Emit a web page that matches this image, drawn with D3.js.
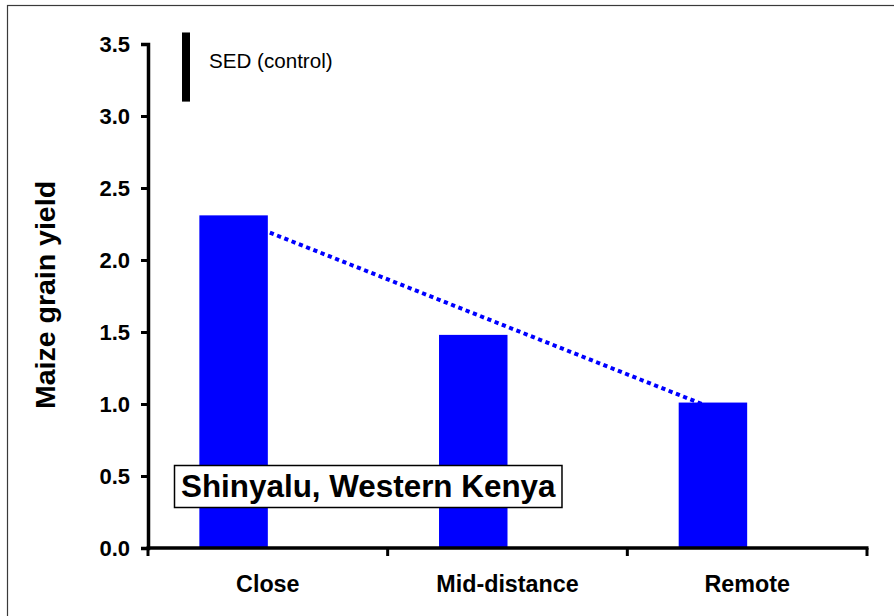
<!DOCTYPE html>
<html>
<head>
<meta charset="utf-8">
<script src="https://cdn.jsdelivr.net/npm/d3@7"></script>
<style>
  html, body { margin: 0; padding: 0; background: #fff; }
  svg { display: block; font-family: Arial, "Liberation Sans", Helvetica, sans-serif; }
</style>
</head>
<body>
<svg id="chart" width="894" height="616"></svg>
<script>
// Maize grain yield by distance of field from homestead
const categories = ["Close", "Mid-distance", "Remote"];
const yieldValues = [2.31, 1.48, 1.01];
const yTicks = [0.0, 0.5, 1.0, 1.5, 2.0, 2.5, 3.0, 3.5];
const yLabel = "Maize grain yield";
const siteLabel = "Shinyalu, Western Kenya";
// Dotted trend line from the Close bar to the Remote bar
const trendCategories = ["Close", "Remote"];
const trendValues = [2.29, 0.97];
// Standard error of difference for the control, drawn as a scale bar
const sedLabel = "SED (control)";
const sedTop = 3.58;
const sedValue = 0.48;

const svg = d3.select("#chart");
const plot = { left: 148, right: 867, top: 44, bottom: 548 };

// Frame around the whole figure (only top and left edges fall inside the page)
svg.append("rect")
  .attr("x", 7.5).attr("y", 5.5)
  .attr("width", 900).attr("height", 700)
  .attr("fill", "none").attr("stroke", "#3a3a3a").attr("stroke-width", 1.2);

const x = d3.scaleBand().domain(categories).range([plot.left, plot.right]).padding(0);
const y = d3.scaleLinear().domain([0, 3.5]).range([plot.bottom, plot.top]);

// Bars sit in the left half of each category, as in a two-slot cluster with 150% gap
const barWidth = x.bandwidth() / 3.5;
const barX = c => x(c) + x.bandwidth() / 2 - barWidth;

// Trend line behind the bars
const trendPts = trendCategories.map((c, i) => [barX(c) + barWidth / 2, y(trendValues[i])]);
svg.append("path")
  .attr("d", d3.line()(trendPts))
  .attr("fill", "none")
  .attr("stroke", "#0000ff")
  .attr("stroke-width", 4)
  .attr("stroke-dasharray", "4.2 3.6");

// Bars
svg.append("g").selectAll("rect")
  .data(categories.map((c, i) => ({ c, v: yieldValues[i] })))
  .join("rect")
  .attr("x", d => barX(d.c))
  .attr("y", d => y(d.v))
  .attr("width", barWidth)
  .attr("height", d => y(0) - y(d.v))
  .attr("fill", "#0000ff");

// Y axis
const yAxis = svg.append("g")
  .attr("transform", `translate(${plot.left},0)`)
  .call(d3.axisLeft(y).tickValues(yTicks).tickFormat(d3.format(".1f")).tickSizeOuter(0).tickSize(7).tickPadding(11));
yAxis.select(".domain").attr("stroke", "#000").attr("stroke-width", 3.5);
yAxis.selectAll(".tick line").attr("stroke", "#000").attr("stroke-width", 3);
yAxis.selectAll(".tick text")
  .attr("fill", "#000")
  .style("font-size", "22px")
  .style("font-weight", "bold")
  .style("font-family", "Arial, 'Liberation Sans', sans-serif");

// X axis: ticks at category boundaries
const xAxisG = svg.append("g").attr("transform", `translate(0,${plot.bottom})`);
xAxisG.append("line")
  .attr("x1", plot.left - 1.5).attr("x2", plot.right + 1.5)
  .attr("stroke", "#000").attr("stroke-width", 3.5);
const boundaries = categories.map(c => x(c)).concat([x(categories[categories.length - 1]) + x.bandwidth()]);
xAxisG.selectAll("line.tick")
  .data(boundaries)
  .join("line")
  .attr("class", "tick")
  .attr("x1", d => d).attr("x2", d => d)
  .attr("y1", 0).attr("y2", 8)
  .attr("stroke", "#000").attr("stroke-width", 3);
xAxisG.selectAll("text")
  .data(categories)
  .join("text")
  .attr("x", d => x(d) + x.bandwidth() / 2)
  .attr("y", 44)
  .attr("text-anchor", "middle")
  .attr("fill", "#000")
  .style("font-size", "23.3px")
  .style("font-weight", "bold")
  .text(d => d);

// Y axis title
svg.append("text")
  .attr("transform", `translate(55,295) rotate(-90)`)
  .attr("text-anchor", "middle")
  .attr("fill", "#000")
  .style("font-size", "28.5px")
  .style("font-weight", "bold")
  .text(yLabel);

// SED scale bar and its label
const sedX = x("Close") + 38;
svg.append("rect")
  .attr("x", sedX - 4)
  .attr("y", y(sedTop))
  .attr("width", 8)
  .attr("height", y(sedTop - sedValue) - y(sedTop))
  .attr("fill", "#000");
svg.append("text")
  .attr("x", sedX + 23)
  .attr("y", 68)
  .attr("fill", "#000")
  .style("font-size", "20.6px")
  .text(sedLabel);

// Site label in a boxed annotation
const boxG = svg.append("g");
const boxText = boxG.append("text")
  .attr("x", 181)
  .attr("y", 497)
  .attr("fill", "#000")
  .style("font-size", "31.4px")
  .style("font-weight", "bold")
  .text(siteLabel);
const tw = boxText.node().getComputedTextLength();
boxG.insert("rect", "text")
  .attr("x", 174.5)
  .attr("y", 465.5)
  .attr("width", tw + 13)
  .attr("height", 42)
  .attr("fill", "#fff")
  .attr("stroke", "#000")
  .attr("stroke-width", 1.5);
</script>
</body>
</html>
